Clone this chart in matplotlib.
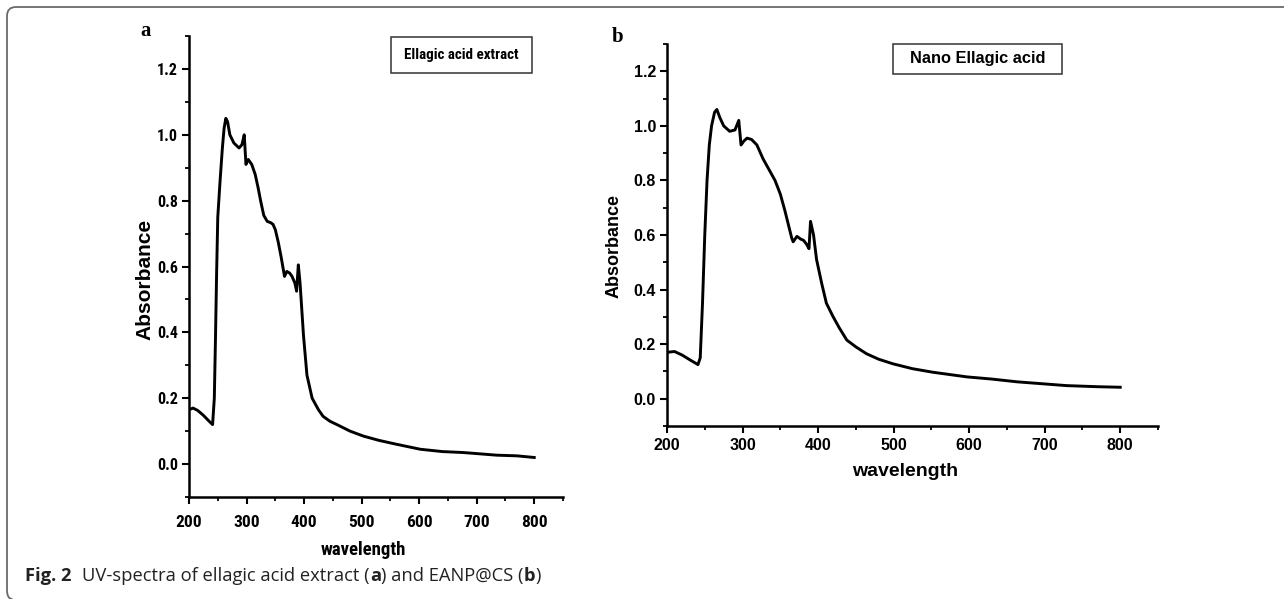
import matplotlib
matplotlib.use("Agg")
import matplotlib.pyplot as plt
from matplotlib import font_manager as fm
from matplotlib.path import Path
from matplotlib.patches import PathPatch, Rectangle
from matplotlib.ticker import MultipleLocator

# ── Data ────────────────────────────────────────────────────────────────
wl_a = [200, 207, 215, 225, 235, 241, 244, 246, 248, 250, 254, 258, 261, 264,
        267, 271, 278, 287, 292, 296, 299, 303, 309, 315, 320, 325, 330, 336,
        342, 346, 350, 355, 360, 364, 366, 370, 375, 379, 384, 387, 390, 393,
        396, 399, 405, 414, 425, 433, 445, 457, 480, 503, 530, 561, 602, 640,
        677, 735, 770, 800]
abs_a = [0.165, 0.17, 0.163, 0.148, 0.13, 0.12, 0.2, 0.38, 0.58, 0.75, 0.86,
         0.96, 1.02, 1.05, 1.04, 1.0, 0.975, 0.96, 0.97, 1.0, 0.91, 0.925,
         0.91, 0.88, 0.84, 0.795, 0.755, 0.737, 0.733, 0.728, 0.712, 0.675,
         0.63, 0.59, 0.57, 0.585, 0.58, 0.57, 0.55, 0.525, 0.605, 0.55, 0.47,
         0.39, 0.27, 0.2, 0.165, 0.145, 0.13, 0.12, 0.1, 0.085, 0.072, 0.06,
         0.045, 0.038, 0.035, 0.027, 0.025, 0.02]

wl_b = [200, 210, 220, 230, 241, 244, 247, 250, 253, 256, 259, 263, 266, 270,
        275, 283, 290, 295, 298, 302, 306, 312, 319, 327, 335, 343, 350, 356,
        365, 367, 372, 377, 381, 385, 388, 390, 394, 398, 405, 411, 420, 428,
        438, 450, 464, 480, 499, 525, 552, 597, 630, 663, 729, 770, 800]
abs_b = [0.17, 0.173, 0.16, 0.143, 0.125, 0.15, 0.35, 0.6, 0.8, 0.93, 1.0,
         1.05, 1.06, 1.03, 1.0, 0.98, 0.985, 1.02, 0.93, 0.945, 0.955, 0.95,
         0.93, 0.88, 0.84, 0.8, 0.75, 0.69, 0.59, 0.575, 0.595, 0.585, 0.58,
         0.565, 0.55, 0.65, 0.6, 0.51, 0.42, 0.35, 0.3, 0.26, 0.215, 0.19,
         0.165, 0.145, 0.128, 0.11, 0.097, 0.08, 0.072, 0.062, 0.048, 0.044,
         0.042]

x_ticks = [200, 300, 400, 500, 600, 700, 800]
y_ticks = [0.0, 0.2, 0.4, 0.6, 0.8, 1.0, 1.2]

W, H = 1284, 599

# panel a uses a narrow bold face in the reference; take one if installed
_names = {f.name for f in fm.fontManager.ttflist}
NARROW = None
for cand in ['Liberation Sans Narrow', 'Arial Narrow', 'Roboto Condensed',
             'Noto Sans Condensed', 'Noto Sans SemiCondensed',
             'DejaVu Sans Condensed', 'Open Sans Condensed']:
    if cand in _names:
        NARROW = cand
        break
if NARROW is None:
    NARROW, NSCALE = 'Liberation Sans', 0.88
else:
    NSCALE = 1.0

fig = plt.figure(figsize=(W / 100, H / 100), dpi=100)


def px_box(x0, y0, x1, y1):
    """Pixel box (left, top, right, bottom) -> figure fraction rect."""
    return [x0 / W, 1 - y1 / H, (x1 - x0) / W, (y1 - y0) / H]


def add_box(x0, y0, x1, y1, label, family, size):
    fig.add_artist(Rectangle((x0 / W, 1 - y1 / H), (x1 - x0) / W,
                             (y1 - y0) / H, transform=fig.transFigure,
                             fc='white', ec='#333333', lw=1.1))
    fig.text((x0 + x1) / 2 / W, 1 - (y0 + y1) / 2 / H, label, ha='center',
             va='center', fontsize=size, fontweight='bold', family=family)


def style_axes(ax, tick_font, xsize, ysize, pad):
    ax.set_xlim(200, 850)
    ax.set_ylim(-0.1, 1.3)
    ax.spines[['top', 'right']].set_visible(False)
    for s in ('left', 'bottom'):
        ax.spines[s].set_linewidth(1.8)
    ax.xaxis.set_minor_locator(MultipleLocator(50))
    ax.yaxis.set_minor_locator(MultipleLocator(0.1))
    ax.set_xticks(x_ticks)
    ax.set_yticks(y_ticks)
    ax.set_xticklabels([str(v) for v in x_ticks])
    ax.set_yticklabels([f"{v:.1f}" for v in y_ticks])
    ax.tick_params(which='major', direction='out', length=5, width=1.5)
    ax.tick_params(axis='x', pad=pad)
    ax.tick_params(axis='y', pad=3)
    ax.tick_params(which='minor', direction='out', length=3, width=1.3)
    for lab in ax.get_xticklabels():
        lab.set(fontfamily=tick_font, fontweight='bold', fontsize=xsize)
    for lab in ax.get_yticklabels():
        lab.set(fontfamily=tick_font, fontweight='bold', fontsize=ysize)


# ── Panel a ─────────────────────────────────────────────────────────────
ax_a = fig.add_axes(px_box(189, 36, 563, 497))
ax_a.plot(wl_a, abs_a, color='black', lw=2.1, solid_joinstyle='round')
style_axes(ax_a, NARROW, 12.5 * NSCALE, 11.5 * NSCALE, 8)
ax_a.text(-0.118, 0.473, 'Absorbance', transform=ax_a.transAxes,
          rotation=90, ha='center', va='center', fontsize=15,
          fontweight='bold', family='Liberation Sans')
ax_a.text(0.465, -0.115, 'wavelength', transform=ax_a.transAxes,
          ha='center', va='center', fontsize=13.5 * NSCALE,
          fontweight='bold', family=NARROW)
add_box(391, 37, 532, 73, 'Ellagic acid extract', NARROW, 10.8 * NSCALE)
fig.text(140 / W, 1 - 31 / H, 'a', ha='left', va='center', fontsize=15,
         fontweight='bold', family='Liberation Serif')

# ── Panel b ─────────────────────────────────────────────────────────────
ax_b = fig.add_axes(px_box(667, 44, 1158, 426))
ax_b.plot(wl_b, abs_b, color='black', lw=2.1, solid_joinstyle='round')
style_axes(ax_b, 'Liberation Sans', 11.5, 11.5, 4)
ax_b.text(-0.107, 0.47, 'Absorbance', transform=ax_b.transAxes, rotation=90,
          ha='center', va='center', fontsize=13, fontweight='bold',
          family='Liberation Sans')
ax_b.text(0.485, -0.12, 'wavelength', transform=ax_b.transAxes,
          ha='center', va='center', fontsize=14, fontweight='bold',
          family='Liberation Sans')
add_box(893, 44, 1062, 74, 'Nano Ellagic acid', 'Liberation Sans', 11.8)
fig.text(612 / W, 1 - 37 / H, 'b', ha='left', va='center', fontsize=15,
         fontweight='bold', family='Liberation Serif')

# ── Caption ─────────────────────────────────────────────────────────────
CAP_Y, CAP_FS = 1 - 576 / H, 13.2
cap = fig.text(25 / W, CAP_Y, 'Fig. 2', ha='left', va='center',
               fontsize=CAP_FS, family='Open Sans', fontweight='bold',
               color='#222222')
fig.canvas.draw()
x = cap.get_window_extent().x1 + 11
parts = [('UV-spectra of ellagic acid extract (', 'normal'), ('a', 'bold'),
         (') and EANP@CS (', 'normal'), ('b', 'bold'), (')', 'normal')]
for txt, wt in parts:
    t = fig.text(x / W, CAP_Y, txt, ha='left', va='center',
                 fontsize=CAP_FS, family='Open Sans', fontweight=wt,
                 color='#222222')
    fig.canvas.draw()
    x = t.get_window_extent().x1

# ── Rounded frame on top and left ──────────────────────────────────────
r = 9
verts = [(W, 7), (7 + r, 7), (7, 7), (7, 7 + r), (7, H - r), (7, H),
         (7 + r * 0.6, H)]
codes = [Path.MOVETO, Path.LINETO, Path.CURVE3, Path.CURVE3, Path.LINETO,
         Path.CURVE3, Path.CURVE3]
verts = [(vx / W, 1 - vy / H) for vx, vy in verts]
fig.add_artist(PathPatch(Path(verts, codes), fill=False, ec='#6a6a6a',
                         lw=1.3, transform=fig.transFigure))

fig.savefig('out.png', dpi=100)
